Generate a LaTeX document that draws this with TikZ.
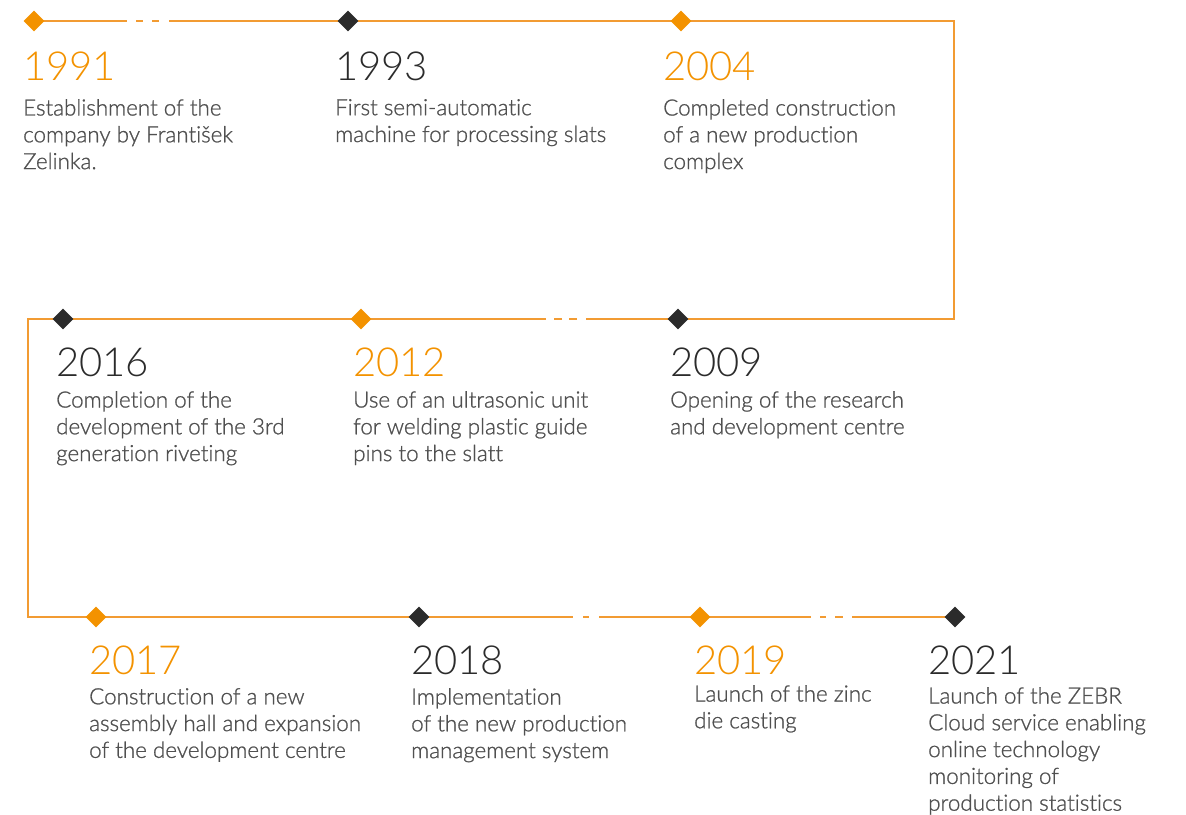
\documentclass[tikz,border=0pt]{standalone}
\usepackage{fontspec}
\IfFontExistsTF{Lato Light}{%
  \setmainfont{Lato Light}[Ligatures=NoCommon]%
  \newfontfamily\descfont{Lato Light}[Ligatures=NoCommon, BoldFont={Lato Light}, BoldFeatures={FakeBold=1}]%
}{\setmainfont{Lato}\newfontfamily\descfont{Lato}}
\usetikzlibrary{shapes.geometric}
\definecolor{tlorange}{HTML}{F39200}
\definecolor{tlline}{HTML}{F29B32}
\definecolor{tldark}{HTML}{2B2B2B}
\definecolor{tlgray}{HTML}{505050}
\pgfdeclarelayer{bg}
\pgfsetlayers{bg,main}
\tikzset{
  dmo/.style={diamond, fill=tlorange, inner sep=0pt, minimum size=21pt},
  dmk/.style={diamond, fill=tldark, inner sep=0pt, minimum size=21pt},
  yr/.style={anchor=base west, inner sep=0pt, font=\fontsize{40}{44}\selectfont},
  yro/.style={yr, text=tlorange},
  yrk/.style={yr, text=tldark},
  desc/.style={anchor=north west, inner sep=0pt, align=left, text=tlgray,
    font=\descfont\fontsize{22.4}{26.8}\selectfont\bfseries},
  tline/.style={draw=tlline, line width=1.6pt}
}
\begin{document}
\begin{tikzpicture}[x=1pt,y=-1pt]
\useasboundingbox (0,0) rectangle (1186,814);
% diamonds
\node[dmo] (d1) at (34,21) {};
\node[dmk] (d2) at (348,21) {};
\node[dmo] (d3) at (681,21) {};
\node[dmk] (d4) at (678,319) {};
\node[dmo] (d5) at (361,319) {};
\node[dmk] (d6) at (63,319) {};
\node[dmo] (d7) at (96,617) {};
\node[dmk] (d8) at (419,617) {};
\node[dmo] (d9) at (700,617) {};
\node[dmk] (d10) at (955,617) {};
% corner and gap coordinates
\coordinate (c1) at (954,21);
\coordinate (c2) at (954,319);
\coordinate (c3) at (28,319);
\coordinate (c4) at (28,617);
\coordinate (g1a) at (127,21);  \coordinate (g1b) at (136,21);
\coordinate (g1c) at (143,21);  \coordinate (g1d) at (152,21);
\coordinate (g1e) at (159,21);  \coordinate (g1f) at (169,21);
\coordinate (g2a) at (586,319); \coordinate (g2b) at (577,319);
\coordinate (g2c) at (569,319); \coordinate (g2d) at (562,319);
\coordinate (g2e) at (554,319); \coordinate (g2f) at (546,319);
\coordinate (g3a) at (573,617); \coordinate (g3b) at (583,617);
\coordinate (g3c) at (589,617); \coordinate (g3d) at (599,617);
\coordinate (g4a) at (811,617); \coordinate (g4b) at (820,617);
\coordinate (g4c) at (826,617); \coordinate (g4d) at (835,617);
\coordinate (g4e) at (843,617); \coordinate (g4f) at (852,617);
\begin{pgfonlayer}{bg}
\draw[tline] (d1.center) -- (g1a);
\draw[tline] (g1b) -- (g1c);
\draw[tline] (g1d) -- (g1e);
\draw[tline] (g1f) -- (d2.center) -- (d3.center) -- (c1) -- (c2) -- (d4.center) -- (g2a);
\draw[tline] (g2b) -- (g2c);
\draw[tline] (g2d) -- (g2e);
\draw[tline] (g2f) -- (d5.center) -- (d6.center) -- (c3) -- (c4) -- (d7.center) -- (d8.center) -- (g3a);
\draw[tline] (g3b) -- (g3c);
\draw[tline] (g3d) -- (d9.center) -- (g4a);
\draw[tline] (g4b) -- (g4c);
\draw[tline] (g4d) -- (g4e);
\draw[tline] (g4f) -- (d10.center);
\end{pgfonlayer}
% years
\node[yro] (y1) at (23,80) {1991};
\node[yrk] (y2) at (335,80) {1993};
\node[yro] (y3) at (663,80) {2004};
\node[yrk] (y4) at (670,376) {2009};
\node[yro] (y5) at (353,376) {2012};
\node[yrk] (y6) at (56,376) {2016};
\node[yro] (y7) at (89,674) {2017};
\node[yrk] (y8) at (411,674) {2018};
\node[yro] (y9) at (694,674) {2019};
\node[yrk] (y10) at (928,674) {2021};
% descriptions
\node[desc] (t1) at (23,99) {Establishment of the\\company by František\\Zelinka.};
\node[desc] (t2) at (335,99) {First semi-automatic\\machine for processing slats};
\node[desc] (t3) at (663,99) {Completed construction\\of a new production\\complex};
\node[desc] (t4) at (670,391) {Opening of the research\\and development centre};
\node[desc] (t5) at (353,391) {Use of an ultrasonic unit\\for welding plastic guide\\pins to the slatt};
\node[desc] (t6) at (56,391) {Completion of the\\development of the 3rd\\generation riveting};
\node[desc] (t7) at (89,688) {Construction of a new\\assembly hall and expansion\\of the development centre};
\node[desc] (t8) at (411,688) {Implementation\\of the new production\\management system};
\node[desc] (t9) at (694,685) {Launch of the zinc\\die casting};
\node[desc] (t10) at (928,687) {Launch of the ZEBR\\Cloud service enabling\\online technology\\monitoring of\\production statistics};
\end{tikzpicture}
\end{document}
